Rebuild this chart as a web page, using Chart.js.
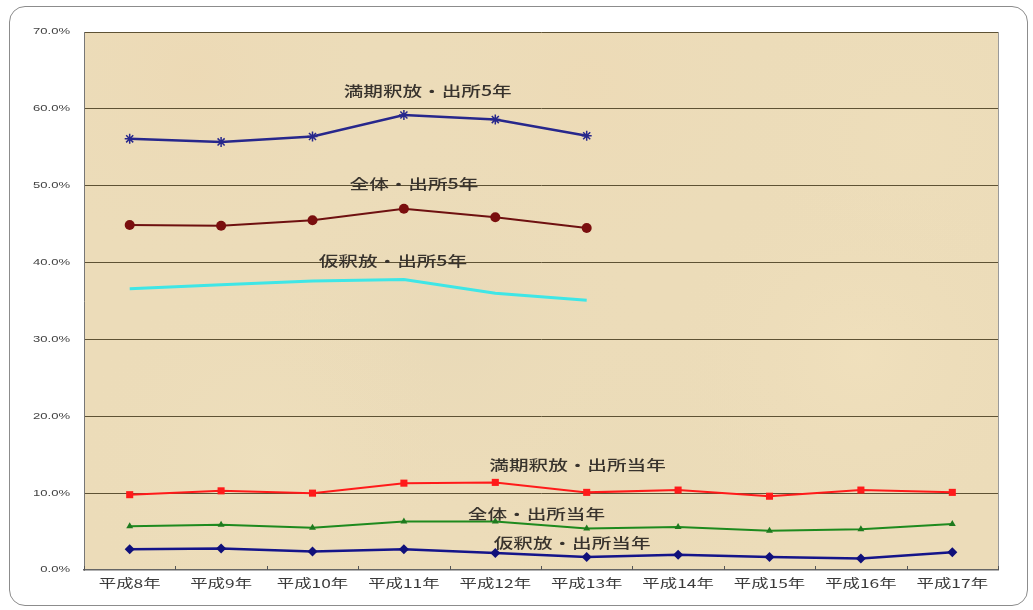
<!DOCTYPE html>
<html>
<head>
<meta charset="utf-8">
<script src="https://cdn.jsdelivr.net/npm/chart.js@4"></script>
<style>
  html, body { margin: 0; padding: 0; background: #fff; }
  #wrap { position: relative; width: 1033px; height: 610px; overflow: hidden; }
  #frame { position: absolute; left: 9px; top: 6px; width: 1019px; height: 600px; border: 1.5px solid #8c8c8c; border-radius: 16px; box-sizing: border-box; }
  canvas { position: absolute; left: 0; top: 0; }
</style>
</head>
<body>
<div id="wrap">
  <div id="frame"></div>
  <canvas id="c" width="1033" height="610"></canvas>
</div>
<script>
const categories = ["平成8年","平成9年","平成10年","平成11年","平成12年","平成13年","平成14年","平成15年","平成16年","平成17年"];
const yTicks = [0, 10, 20, 30, 40, 50, 60, 70];

const manki5 = [56.1, 55.7, 56.4, 59.2, 58.6, 56.5, null, null, null, null];
const zentai5 = [44.9, 44.8, 45.5, 47.0, 45.9, 44.5, null, null, null, null];
const karishaku5 = [36.6, 37.1, 37.6, 37.8, 36.0, 35.1, null, null, null, null];
const mankiTounen = [9.8, 10.3, 10.0, 11.3, 11.4, 10.1, 10.4, 9.6, 10.4, 10.1];
const zentaiTounen = [5.7, 5.9, 5.5, 6.3, 6.3, 5.4, 5.6, 5.1, 5.3, 6.0];
const karishakuTounen = [2.7, 2.8, 2.4, 2.7, 2.2, 1.7, 2.0, 1.7, 1.5, 2.3];

const seriesNames = ["満期釈放・出所5年","全体・出所5年","仮釈放・出所5年","満期釈放・出所当年","全体・出所当年","仮釈放・出所当年"];
// label anchor in data coordinates: category index, value
const labelX = [3.26, 3.11, 2.88, 4.9, 4.45, 4.84];
const labelY = [62.4, 50.2, 40.2, 13.7, 7.3, 3.5];

const CJK = '"Noto Sans CJK JP", sans-serif';

function stretchedText(ctx, text, x, y, sx, align) {
  ctx.save();
  ctx.translate(x, y);
  ctx.scale(sx, 1);
  ctx.textAlign = align;
  ctx.fillText(text, 0, 0);
  ctx.restore();
}

const bgPlugin = {
  id: 'bg',
  beforeDraw(chart) {
    const {ctx, chartArea: a} = chart;
    ctx.save();
    ctx.fillStyle = '#ecdcb9';
    ctx.fillRect(a.left, a.top, a.right - a.left, a.bottom - a.top);
    const spots = [[0.12,0.08,'rgba(238,212,172,0.3)'],[0.55,0.1,'rgba(240,214,174,0.25)'],[0.4,0.55,'rgba(228,214,182,0.4)'],[0.85,0.6,'rgba(244,228,192,0.45)'],[0.2,0.8,'rgba(240,226,192,0.45)'],[0.6,0.85,'rgba(232,218,182,0.4)'],[0.9,0.2,'rgba(240,224,188,0.4)']];
    const w = a.right - a.left, h = a.bottom - a.top;
    for (const [fx, fy, col] of spots) {
      const cx = a.left + fx * w, cy = a.top + fy * h;
      const g = ctx.createRadialGradient(cx, cy, 0, cx, cy, 200);
      g.addColorStop(0, col);
      g.addColorStop(1, 'rgba(236,220,185,0)');
      ctx.fillStyle = g;
      ctx.fillRect(a.left, a.top, w, h);
    }
    ctx.strokeStyle = '#9a9a9a';
    ctx.lineWidth = 1;
    ctx.beginPath();
    ctx.moveTo(a.right + 0.5, a.top);
    ctx.lineTo(a.right + 0.5, a.bottom);
    ctx.stroke();
    ctx.restore();
  },
  afterDraw(chart) {
    const {ctx, scales: {x, y}, chartArea: a} = chart;
    ctx.save();
    ctx.strokeStyle = '#555';
    ctx.lineWidth = 1;
    for (let i = 0; i <= categories.length; i++) {
      const px = Math.round(x.getPixelForValue(i - 0.5)) + 0.5;
      ctx.beginPath();
      ctx.moveTo(px, a.bottom);
      ctx.lineTo(px, a.bottom - 4);
      ctx.stroke();
    }
    ctx.textBaseline = 'middle';
    ctx.font = '500 14px ' + CJK;
    ctx.fillStyle = '#38332d';
    for (let i = 0; i < seriesNames.length; i++) {
      stretchedText(ctx, seriesNames[i], x.getPixelForValue(labelX[i]), y.getPixelForValue(labelY[i]), 1.4, 'center');
    }
    ctx.font = '12px ' + CJK;
    ctx.fillStyle = '#3a3a3a';
    categories.forEach((c, i) => stretchedText(ctx, c, x.getPixelForValue(i), a.bottom + 13, 1.45, 'center'));
    ctx.font = '9px Arial, "Liberation Sans", sans-serif';
    ctx.fillStyle = '#444';
    yTicks.forEach(v => stretchedText(ctx, v.toFixed(1) + '%', a.left - 14, y.getPixelForValue(v), 1.45, 'right'));
    ctx.restore();
  }
};

new Chart(document.getElementById('c'), {
  type: 'line',
  data: {
    labels: categories,
    datasets: [
      { label: seriesNames[0], data: manki5, borderColor: '#27278c', backgroundColor: '#27278c', borderWidth: 2.5, pointStyle: 'star', pointRadius: 5, pointBorderWidth: 1.5, pointBorderColor: '#27278c' },
      { label: seriesNames[1], data: zentai5, borderColor: '#6e1010', backgroundColor: '#7a0e0e', borderWidth: 2, pointStyle: 'circle', pointRadius: 5, pointBorderWidth: 0 },
      { label: seriesNames[2], data: karishaku5, borderColor: '#3fe6e6', backgroundColor: '#3fe6e6', borderWidth: 3, pointRadius: 0 },
      { label: seriesNames[3], data: mankiTounen, borderColor: '#ff1a1a', backgroundColor: '#ff1a1a', borderWidth: 2, pointStyle: 'rect', pointRadius: 5, pointBorderWidth: 0 },
      { label: seriesNames[4], data: zentaiTounen, borderColor: '#1e8a1e', backgroundColor: '#1e7a1e', borderWidth: 2, pointStyle: 'triangle', pointRadius: 4, pointBorderWidth: 0 },
      { label: seriesNames[5], data: karishakuTounen, borderColor: '#14148a', backgroundColor: '#10107a', borderWidth: 2.5, pointStyle: 'rectRot', pointRadius: 5, pointBorderWidth: 0 }
    ]
  },
  options: {
    responsive: false,
    animation: false,
    spanGaps: false,
    layout: { padding: { left: 0, right: 35, top: 32, bottom: 8 } },
    plugins: { legend: { display: false }, tooltip: { enabled: false } },
    scales: {
      x: {
        offset: true,
        grid: { display: false, drawTicks: false },
        border: { display: true, color: '#666', width: 1.5 },
        ticks: { color: 'rgba(0,0,0,0)', font: { size: 11, family: CJK }, padding: 6, maxRotation: 0 },
        afterFit(s) { s.height = 32; }
      },
      y: {
        min: 0, max: 70,
        afterBuildTicks(s) { s.ticks = yTicks.map(v => ({ value: v })); },
        grid: { color: (c) => c.tick.value === 0 ? 'rgba(0,0,0,0)' : '#5e5234', lineWidth: 1, drawTicks: false },
        border: { display: true, color: '#777', width: 1 },
        ticks: { color: 'rgba(0,0,0,0)', font: { size: 9 }, padding: 12, callback: (v) => v.toFixed(1) + '%' },
        afterFit(s) { s.width = 84; }
      }
    }
  },
  plugins: [bgPlugin]
});
</script>
</body>
</html>
